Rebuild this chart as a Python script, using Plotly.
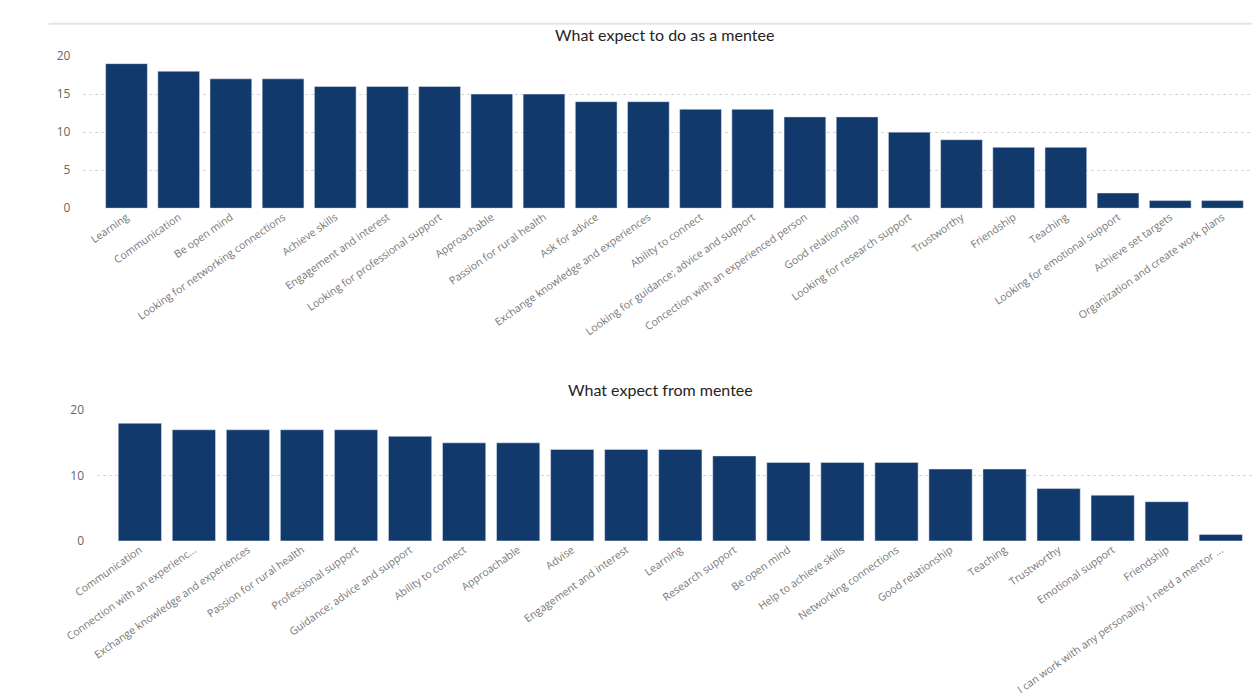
import plotly.graph_objects as go

# ---- Data ----
top_categories = [
    "Learning", "Communication", "Be open mind", "Looking for networking connections",
    "Achieve skills", "Engagement and interest", "Looking for professional support",
    "Approachable", "Passion for rural health", "Ask for advice",
    "Exchange knowledge and experiences", "Ability to connect",
    "Looking for guidance; advice and support", "Concection with an experienced person",
    "Good relationship", "Looking for research support", "Trustworthy", "Friendship",
    "Teaching", "Looking for emotional support", "Achieve set targets",
    "Organization and create work plans",
]
top_values = [19, 18, 17, 17, 16, 16, 16, 15, 15, 14, 14, 13, 13, 12, 12, 10, 9, 8, 8, 2, 1, 1]

bottom_categories = [
    "Communication", "Connection with an experienc...", "Exchange knowledge and experiences",
    "Passion for rural health", "Professional support", "Guidance; advice and support",
    "Ability to connect", "Approachable", "Advise", "Engagement and interest", "Learning",
    "Research support", "Be open mind", "Help to achieve skills", "Networking connections",
    "Good relationship", "Teaching", "Trustworthy", "Emotional support", "Friendship",
    "I can work with any personality. I need a mentor ...",
]
bottom_values = [18, 17, 17, 17, 17, 16, 15, 15, 14, 14, 14, 13, 12, 12, 12, 11, 11, 8, 7, 6, 1]

top_title = "What expect to do as a mentee"
bottom_title = "What expect from mentee"
top_yticks = [0, 5, 10, 15, 20]
bottom_yticks = [0, 10, 20]

# ---- Style ----
BAR = "#12396B"
GRID = "#D6D6D6"
TICK = "#666666"
W, H = 1260, 698

def py(px):
    return 1 - px / H

fig = go.Figure()
fig.add_trace(go.Bar(x=top_categories, y=top_values, marker_color=BAR,
                     xaxis="x", yaxis="y", hoverinfo="x+y"))
fig.add_trace(go.Bar(x=bottom_categories, y=bottom_values, marker_color=BAR,
                     xaxis="x2", yaxis="y2", hoverinfo="x+y"))

common_x = dict(showgrid=False, zeroline=False, showline=False, tickangle=-35,
                tickfont=dict(family="Open Sans", size=10.6, color="#777777"),
                ticks="", fixedrange=True)
common_y = dict(showgrid=True, gridcolor=GRID, griddash="dot", gridwidth=1,
                zeroline=False, showline=False, ticks="outside", ticklen=9,
                tickcolor="rgba(0,0,0,0)",
                tickfont=dict(family="Open Sans", size=12, color=TICK),
                fixedrange=True)

fig.update_layout(
    width=W, height=H,
    margin=dict(l=0, r=0, t=0, b=0),
    paper_bgcolor="white", plot_bgcolor="white",
    showlegend=False, bargap=0.2,
    xaxis=dict(common_x, domain=[43 / W, 1258 / W], range=[-0.836, 21.836], anchor="y"),
    yaxis=dict(common_y, domain=[py(196), py(40)], range=[0, 20], tickvals=top_yticks,
               anchor="x"),
    xaxis2=dict(common_x, domain=[57 / W, 1258 / W], range=[-0.802, 20.838], anchor="y2"),
    yaxis2=dict(common_y, domain=[py(537), py(403)], range=[0, 20], tickvals=bottom_yticks,
                anchor="x2"),
    annotations=[
        dict(text=top_title, x=640 / W, y=py(18), xref="paper", yref="paper",
             showarrow=False, xanchor="center", yanchor="middle",
             font=dict(family="Lato", size=16, color="#252423")),
        dict(text=bottom_title, x=636 / W, y=py(382), xref="paper", yref="paper",
             showarrow=False, xanchor="center", yanchor="middle",
             font=dict(family="Lato", size=16, color="#252423")),
    ],
    shapes=[
        dict(type="line", xref="paper", yref="paper", x0=8 / W, x1=1, y0=py(7), y1=py(7),
             line=dict(color="#E4E4E4", width=2)),
    ],
)

fig.write_html("out.html")
